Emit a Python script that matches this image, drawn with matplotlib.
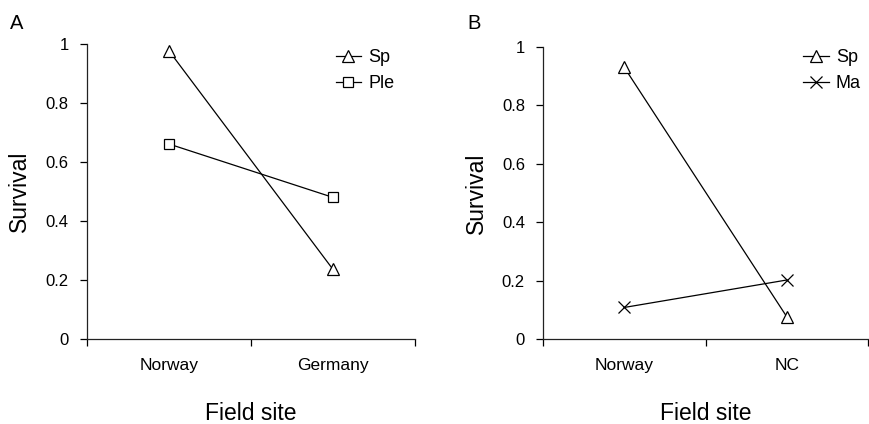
import matplotlib
matplotlib.use("Agg")
import matplotlib.pyplot as plt

plt.rcParams['font.family'] = ['Liberation Sans', 'DejaVu Sans']

# panel A
sites_a = ['Norway', 'Germany']
sp_a = [0.977, 0.236]
ple_a = [0.661, 0.48]

# panel B
sites_b = ['Norway', 'NC']
sp_b = [0.93, 0.076]
ma_b = [0.108, 0.202]

yticks = [0, 0.2, 0.4, 0.6, 0.8, 1]
yticklabels = ['0', '0.2', '0.4', '0.6', '0.8', '1']

fig = plt.figure(figsize=(8.69, 4.24), dpi=100)
ax_a = fig.add_axes([0.100, 0.2005, 0.3775, 0.6958])
ax_b = fig.add_axes([0.6249, 0.2005, 0.374, 0.6887])

line_kw = dict(color='black', lw=0.9, markerfacecolor='white',
               markeredgecolor='black', markeredgewidth=0.9)


def style_axis(ax, sites):
    ax.set_xlim(0, 2)
    ax.set_ylim(0, 1)
    for side in ('top', 'right'):
        ax.spines[side].set_visible(False)
    for side in ('left', 'bottom'):
        ax.spines[side].set_linewidth(0.9)
        ax.spines[side].set_color('#222222')
    ax.set_yticks(yticks)
    ax.set_yticklabels(yticklabels, fontsize=12)
    ax.set_xticks([0, 1, 2])
    ax.set_xticklabels([])
    ax.set_xticks([0.5, 1.5], minor=True)
    ax.set_xticklabels(sites, minor=True, fontsize=12.5)
    ax.tick_params(axis='x', which='minor', length=0, pad=14)
    ax.tick_params(axis='x', which='major', length=5, width=0.9, direction='out')
    ax.tick_params(axis='y', length=5, width=0.9, direction='out', pad=8)
    ax.set_ylabel('Survival', fontsize=16.5)
    ax.set_xlabel('Field site', fontsize=16.5)
    ax.xaxis.set_label_coords(0.5, -0.215)
    ax.yaxis.set_label_coords(-0.17, 0.5)


x = [0.5, 1.5]

ax_a.plot(x, sp_a, marker='^', markersize=8.5, label='Sp', **line_kw)
ax_a.plot(x, ple_a, marker='s', markersize=7.5, label='Ple', **line_kw)
style_axis(ax_a, sites_a)
ax_a.legend(loc='upper left', bbox_to_anchor=(0.376, 0.905),
            bbox_transform=fig.transFigure, frameon=False, fontsize=13,
            handlelength=1.4, handletextpad=0.4, borderpad=0, labelspacing=0.5)
fig.text(0.012, 0.945, 'A', fontsize=14.5, va='center')

ax_b.plot(x, sp_b, marker='^', markersize=8.5, label='Sp', **line_kw)
ax_b.plot(x, ma_b, marker='x', markersize=8.5, label='Ma', **line_kw)
style_axis(ax_b, sites_b)
ax_b.legend(loc='upper left', bbox_to_anchor=(0.914, 0.905),
            bbox_transform=fig.transFigure, frameon=False, fontsize=13,
            handlelength=1.4, handletextpad=0.4, borderpad=0, labelspacing=0.5)
fig.text(0.538, 0.945, 'B', fontsize=14.5, va='center')

fig.savefig('out.png', dpi=100)
